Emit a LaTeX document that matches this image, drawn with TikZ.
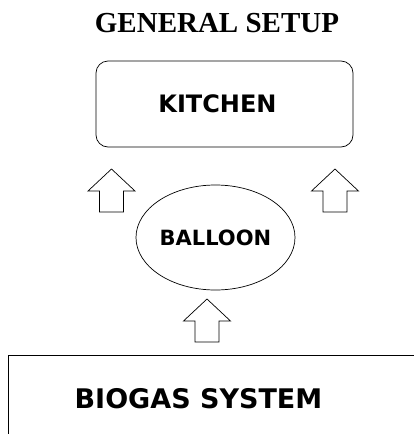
\documentclass[tikz,border=0pt]{standalone}
\usepackage{fontspec}
\setmainfont{Liberation Serif}
\newfontfamily\labelfont{DejaVu Sans}
\usetikzlibrary{shapes.geometric}

\begin{document}
\begin{tikzpicture}[x=1pt, y=-1pt, line width=0.7pt,
  title/.style={font=\fontsize{29}{31}\selectfont\bfseries, inner sep=0},
  part/.style={draw, align=center, font=\labelfont\bfseries},
  upflow/.pic={\draw (0,0) -- (23.5,22) -- (12,22) -- (12,43) -- (-12,43) -- (-12,22) -- (-23.5,22) -- cycle;},
]
\useasboundingbox (0,0) rectangle (413,434);

\node[title] (setup) at (217,23) {GENERAL SETUP};
\node[part, rounded corners=12pt, minimum width=257, minimum height=86,
  label={[xshift=-7pt, font=\labelfont\bfseries\fontsize{24}{26}\selectfont]center:KITCHEN}] (kitchen) at (224.5,104) {};
\node[part, ellipse, minimum width=159, minimum height=105, inner sep=0,
  font=\labelfont\bfseries\fontsize{21}{23}\selectfont] (balloon) at (215.5,237.5) {BALLOON};
\node[draw, anchor=north west, minimum width=440, minimum height=120] (biogasbox) at (8,355) {};
\node[font=\labelfont\bfseries\fontsize{27}{29}\selectfont] (biogas) at (198.5,398.5) {BIOGAS SYSTEM};

\pic at (111.5,169) {upflow};
\pic at (335,169) {upflow};
\pic at (207,299) {upflow};
\end{tikzpicture}
\end{document}
